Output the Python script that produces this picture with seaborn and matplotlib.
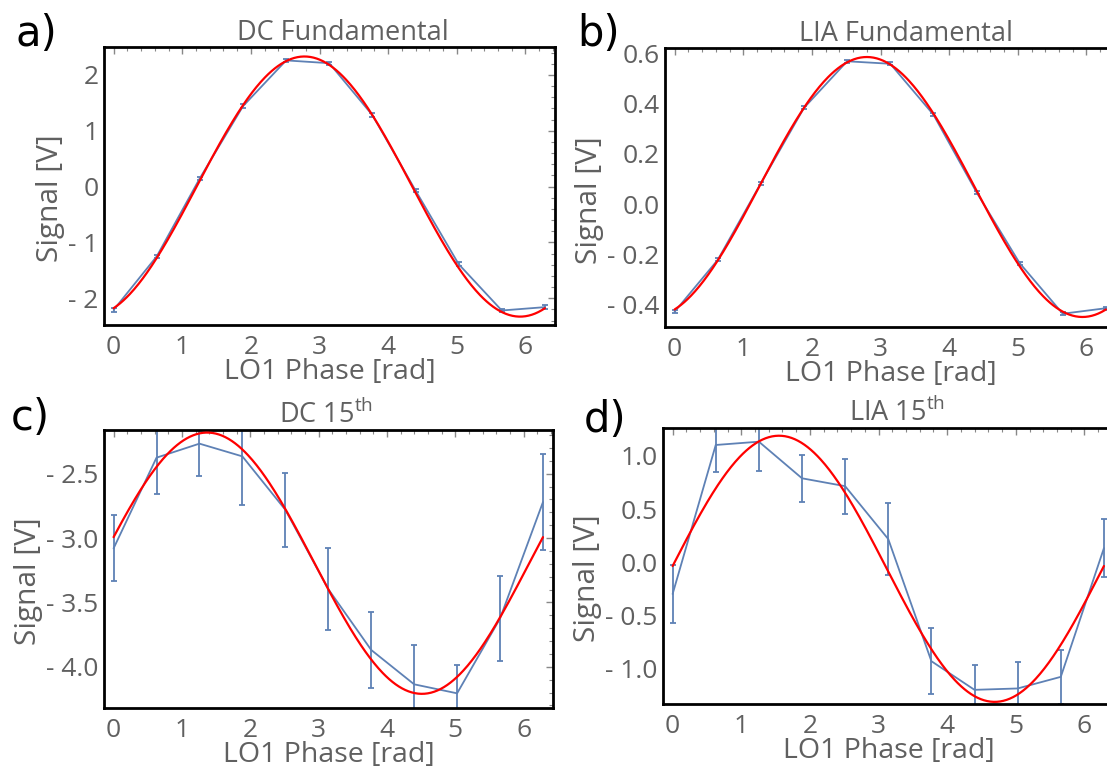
import numpy as np
import pandas as pd
import matplotlib
matplotlib.use("Agg")
import matplotlib.pyplot as plt
from matplotlib.ticker import MultipleLocator, FuncFormatter
import seaborn as sns

sns.set_theme(style="white")
plt.rcParams["font.family"] = ["Open Sans", "DejaVu Sans"]
plt.rcParams["mathtext.fontset"] = "custom"
plt.rcParams["mathtext.rm"] = "Open Sans"

# LO1 phase steps (rad)
phase = np.linspace(0, 2 * np.pi, 11)

# Measured signals [V] and their uncertainties
dc_fund = [-2.21, -1.25, 0.15, 1.44, 2.26, 2.21, 1.28, -0.07, -1.39, -2.22, -2.16]
dc_fund_err = [0.03] * 11
lia_fund = [-0.430, -0.223, 0.083, 0.384, 0.570, 0.560, 0.357, 0.047, -0.236, -0.438, -0.416]
lia_fund_err = [0.006] * 11
dc_15 = [-3.08, -2.375, -2.266, -2.365, -2.78, -3.396, -3.869, -4.136, -4.206, -3.625, -2.72]
dc_15_err = [0.257, 0.28, 0.255, 0.374, 0.287, 0.317, 0.297, 0.306, 0.218, 0.33, 0.37]
lia_15 = [-0.297, 1.103, 1.134, 0.79, 0.716, 0.219, -0.928, -1.197, -1.184, -1.075, 0.134]
lia_15_err = [0.27, 0.256, 0.275, 0.22, 0.26, 0.335, 0.31, 0.235, 0.25, 0.256, 0.27]

# Sinusoidal fits: offset + amplitude * cos(phase - peak)
fit_offset = [0.0, 0.068, -3.195, -0.06]
fit_amplitude = [2.33, 0.519, 1.015, 1.25]
fit_peak = [2.78, 2.80, 1.37, 1.55]

titles = ["DC Fundamental", "LIA Fundamental",
          r"DC 15$^{\mathrm{th}}$", r"LIA 15$^{\mathrm{th}}$"]
letters = ["a)", "b)", "c)", "d)"]
series = [dc_fund, lia_fund, dc_15, lia_15]
errors = [dc_fund_err, lia_fund_err, dc_15_err, lia_15_err]

W, H = 1107, 769
fig = plt.figure(figsize=(W / 100, H / 100), dpi=100)

# axes boxes in pixels: left, top, right, bottom
boxes = [(104, 47, 555, 325), (665, 48, 1116, 327),
         (104, 430, 553, 708), (663, 428, 1114, 704)]
ylims = [(-2.48, 2.50), (-0.491, 0.623), (-4.32, -2.16), (-1.33, 1.2625)]
major = [1.0, 0.2, 0.5, 0.5]
minor = [0.2, 0.05, 0.1, 0.1]
yfmt = ["{:.0f}", "{:.1f}", "{:.1f}", "{:.1f}"]
letter_pos = [(15, 46), (577, 46), (11, 430), (584, 432)]
title_x = [0.53, 0.535, 0.495, 0.52]

grey = "#606060"
blue = "#5e81b5"

def make_fmt(f):
    def fmt(v, pos):
        s = f.format(abs(v))
        if v < -1e-9:
            return "- " + s
        return s
    return fmt

for i in range(4):
    l, t, r, b = boxes[i]
    ax = fig.add_axes([l / W, 1 - b / H, (r - l) / W, (b - t) / H])
    df = pd.DataFrame({"phase": phase, "signal": series[i]})
    ax.errorbar(phase, series[i], yerr=errors[i], fmt="none", ecolor=blue,
                elinewidth=1.3, capsize=2.2, capthick=1.3, zorder=2)
    sns.lineplot(data=df, x="phase", y="signal", ax=ax, color=blue,
                 linewidth=1.3, zorder=3)
    xf = np.linspace(0, 2 * np.pi, 400)
    yf = fit_offset[i] + fit_amplitude[i] * np.cos(xf - fit_peak[i])
    sns.lineplot(x=xf, y=yf, ax=ax, color="#ff0000", linewidth=1.6, zorder=4)

    ax.set_xlim(-0.14, 6.43)
    ax.set_ylim(*ylims[i])
    ax.xaxis.set_major_locator(MultipleLocator(1))
    ax.xaxis.set_minor_locator(MultipleLocator(0.2))
    ax.yaxis.set_major_locator(MultipleLocator(major[i]))
    ax.yaxis.set_minor_locator(MultipleLocator(minor[i]))
    ax.yaxis.set_major_formatter(FuncFormatter(make_fmt(yfmt[i])))
    ax.tick_params(which="both", direction="in", top=True, right=True,
                   color="#888888", labelcolor=grey, labelsize=19)
    ax.tick_params(which="major", length=5, width=1.0)
    ax.tick_params(axis="x", which="major", pad=7)
    ax.tick_params(axis="y", which="major", pad=4)
    ax.tick_params(which="minor", length=2.8, width=0.8)
    for sp in ax.spines.values():
        sp.set_color("black")
        sp.set_linewidth(2.0)
    ax.set_xlabel("LO1 Phase [rad]", fontsize=20.5, color=grey, labelpad=-1)
    ax.set_ylabel("Signal [V]", fontsize=21.5, color=grey, labelpad=2)
    ax.yaxis.label.set_y(0.455)
    ax.set_title(titles[i], fontsize=19.5, color=grey, pad=5, x=title_x[i])
    lx, ly = letter_pos[i]
    fig.text(lx / W, 1 - ly / H, letters[i], fontsize=30, color="black",
             family=["DejaVu Sans"], ha="left", va="baseline")

fig.savefig("out.png", dpi=100)
